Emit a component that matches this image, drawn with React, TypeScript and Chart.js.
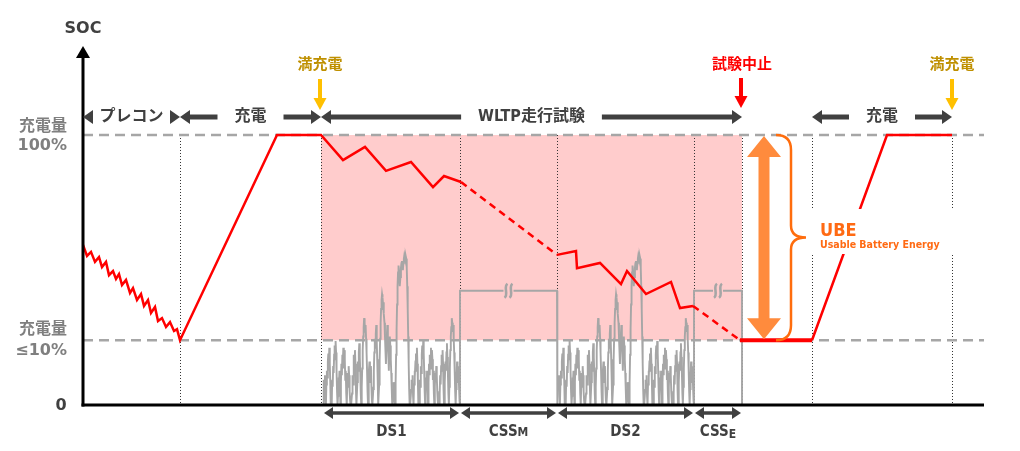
import React, { useEffect, useRef } from 'react';
import { Chart, registerables } from 'chart.js';

Chart.register(...registerables);

const FONT = "'DejaVu Sans Condensed', 'DejaVu Sans', 'Noto Sans CJK JP', sans-serif";
const FONT_WIDE = "'DejaVu Sans', 'Noto Sans CJK JP', sans-serif";
const DARK = '#404040';
const GRAY_TXT = '#7F7F7F';
const GRAY_LINE = '#A6A6A6';
const PINK = '#FFCCCC';
const RED = '#FF0000';

// ---- time axis (arbitrary units) and SOC levels (%) ----
const T_MAX = 917;
const AXIS_END_T = 901;
const SOC_FULL = 100;
const SOC_LOW = 24;
const SOC_AXIS_MAX = 133.33;
const SPEED_AXIS_MAX = 315;
const CSS_SPEED = 100;

// phase boundaries (time units)
const PRECON_END = 97;
const TEST_START = 238;
const DS1_START = 240;
const DS1_END = 377;
const CSSM_END = 474;
const DS2_END = 611;
const TEST_END = 659;
const CHG2_START = 729;
const CHG2_END = 869;

// SOC trace
const SOC_T = [0, 4, 8, 12, 16, 19, 23, 26, 30, 33, 36, 39, 43, 47, 50, 54, 58, 61, 65, 68, 72, 75, 79, 83, 87, 91, 94, 97,
  194, 238, 260, 282, 303, 328, 350, 361, 378,
  474, 493, 494, 517, 538, 544, 563, 588, 597, 610,
  657, 729, 804, 869];
const SOC_V = [59.3, 55.2, 56.7, 53.0, 54.8, 51.1, 53.0, 48.1, 49.6, 46.7, 48.5, 44.4, 46.3, 41.5, 43.3, 38.9, 41.1, 36.7, 38.9, 34.1, 36.3, 31.1, 32.2, 28.9, 30.7, 27.4, 28.1, 24,
  100, 100, 90.7, 95.6, 86.7, 90.0, 80.7, 84.8, 82.6,
  55.6, 57.0, 50.7, 52.6, 44.8, 49.6, 41.1, 45.6, 35.9, 36.7,
  24, 24, 100, 100];
const SOC_DASHED_FROM = [378, 610];
const SOC_THICK_FROM = [657];

// WLTC-like speed phases (km/h, one sample per 10 s)
const PHASE_LOW = [0, 12, 22, 14, 26, 8, 0, 18, 30, 24, 38, 45, 30, 50, 36, 20, 0, 5, 0, 22, 16, 34, 28, 44, 52, 40, 56, 46, 30, 12,
  0, 8, 24, 14, 30, 18, 0, 20, 36, 26, 44, 38, 50, 32, 48, 40, 22, 30, 10, 0, 16, 28, 20, 34, 26, 12, 4, 0, 0];
const PHASE_MEDIUM = [0, 10, 26, 18, 34, 44, 30, 48, 36, 14, 0, 0, 20, 38, 30, 46, 54, 42, 28, 10, 0, 16, 32, 48, 60, 68, 76, 72,
  64, 70, 58, 46, 30, 12, 0, 14, 28, 38, 30, 20, 34, 16, 4, 0];
const PHASE_HIGH = [0, 14, 30, 46, 58, 50, 62, 70, 56, 40, 22, 0, 0, 18, 40, 58, 72, 84, 92, 97, 94, 88, 90, 80, 72, 60, 48, 36,
  50, 62, 70, 58, 44, 30, 46, 60, 52, 40, 28, 14, 0, 0, 10, 20, 8, 0];
const PHASE_EXHIGH = [0, 20, 44, 66, 88, 104, 116, 122, 118, 110, 104, 112, 120, 124, 126, 122, 118, 124, 128, 131, 129, 126, 130,
  128, 120, 104, 84, 60, 36, 14, 0, 0];
const DS_PROFILE = [...PHASE_LOW, ...PHASE_MEDIUM, ...PHASE_HIGH, ...PHASE_EXHIGH, ...PHASE_LOW, ...PHASE_MEDIUM];

function dsPoints(start: number, end: number) {
  const n = DS_PROFILE.length;
  return DS_PROFILE.map((v, i) => ({ x: start + (i * (end - start)) / (n - 1), y: v }));
}

const socData = SOC_T.map((t, i) => ({ x: t, y: SOC_V[i] }));
const speedData = [
  ...dsPoints(DS1_START, DS1_END),
  { x: DS1_END, y: CSS_SPEED }, { x: CSSM_END, y: CSS_SPEED }, { x: CSSM_END, y: 0 },
  ...dsPoints(CSSM_END, DS2_END),
  { x: DS2_END, y: CSS_SPEED }, { x: TEST_END, y: CSS_SPEED }, { x: TEST_END, y: 0 },
];

// ---- drawing helpers ----
function poly(ctx: CanvasRenderingContext2D, pts: number[][], color: string) {
  ctx.beginPath();
  ctx.moveTo(pts[0][0], pts[0][1]);
  for (let i = 1; i < pts.length; i++) ctx.lineTo(pts[i][0], pts[i][1]);
  ctx.closePath();
  ctx.fillStyle = color;
  ctx.fill();
}
function hHead(ctx: CanvasRenderingContext2D, tip: number, y: number, dir: number, len: number, half: number, color: string) {
  poly(ctx, [[tip, y], [tip - dir * len, y - half], [tip - dir * len, y + half]], color);
}
function hLine(ctx: CanvasRenderingContext2D, x1: number, x2: number, y: number, w: number, color: string) {
  if (x2 - x1 < 2) return;
  ctx.beginPath();
  ctx.moveTo(x1, y);
  ctx.lineTo(x2, y);
  ctx.lineWidth = w;
  ctx.strokeStyle = color;
  ctx.setLineDash([]);
  ctx.stroke();
}
function text(ctx: CanvasRenderingContext2D, s: string, x: number, y: number, size: number, color: string, align: CanvasTextAlign = 'center', family: string = FONT) {
  ctx.font = `bold ${size}px ${family}`;
  ctx.fillStyle = color;
  ctx.textAlign = align;
  ctx.textBaseline = 'middle';
  ctx.fillText(s, x, y);
}
function downArrow(ctx: CanvasRenderingContext2D, x: number, y1: number, y2: number, color: string) {
  ctx.beginPath();
  ctx.moveTo(x, y1);
  ctx.lineTo(x, y2 - 10);
  ctx.lineWidth = 4;
  ctx.strokeStyle = color;
  ctx.setLineDash([]);
  ctx.stroke();
  poly(ctx, [[x, y2], [x - 6.5, y2 - 12], [x + 6.5, y2 - 12]], color);
}

const annotations = {
  id: 'annotations',
  beforeDraw(chart: any) {
    const ctx = chart.ctx;
    ctx.save();
    ctx.fillStyle = '#FFFFFF';
    ctx.fillRect(0, 0, chart.width, chart.height);
    ctx.restore();
  },
  beforeDatasetsDraw(chart: any) {
    const ctx: CanvasRenderingContext2D = chart.ctx;
    const X = (v: number) => chart.scales.x.getPixelForValue(v);
    const S = (v: number) => chart.scales.soc.getPixelForValue(v);
    const area = chart.chartArea;
    ctx.save();
    ctx.fillStyle = PINK;
    ctx.fillRect(X(TEST_START), S(SOC_FULL), X(TEST_END) - X(TEST_START), S(SOC_LOW) - S(SOC_FULL));
    ctx.strokeStyle = '#333333';
    ctx.lineWidth = 1;
    ctx.setLineDash([1, 2]);
    for (const t of [PRECON_END, TEST_START, DS1_END, CSSM_END, DS2_END, TEST_END, CHG2_START, CHG2_END]) {
      const px = Math.round(X(t)) + 0.5;
      ctx.beginPath();
      ctx.moveTo(px, S(SOC_FULL));
      ctx.lineTo(px, area.bottom);
      ctx.stroke();
    }
    ctx.strokeStyle = GRAY_LINE;
    ctx.lineWidth = 2.5;
    ctx.setLineDash([10, 6]);
    for (const lvl of [SOC_FULL, SOC_LOW]) {
      ctx.beginPath();
      ctx.moveTo(area.left, S(lvl));
      ctx.lineTo(X(AXIS_END_T), S(lvl));
      ctx.stroke();
    }
    ctx.restore();
  },
  afterDraw(chart: any) {
    const ctx: CanvasRenderingContext2D = chart.ctx;
    const X = (v: number) => chart.scales.x.getPixelForValue(v);
    const S = (v: number) => chart.scales.soc.getPixelForValue(v);
    const V = (v: number) => chart.scales.spd.getPixelForValue(v);
    const area = chart.chartArea;
    ctx.save();

    // break symbols on constant-speed lines
    for (const t of [(DS1_END + CSSM_END) / 2, (DS2_END + TEST_END) / 2]) {
      const cx = X(t);
      const cy = V(CSS_SPEED);
      ctx.fillStyle = PINK;
      ctx.fillRect(cx - 5, cy - 3, 10, 6);
      ctx.strokeStyle = GRAY_LINE;
      ctx.lineWidth = 2.6;
      ctx.setLineDash([]);
      for (const dx of [-2.5, 2.5]) {
        const x0 = cx + dx;
        ctx.beginPath();
        ctx.moveTo(x0 + 1.5, cy - 7);
        ctx.bezierCurveTo(x0 - 3, cy - 4, x0 + 3, cy + 4, x0 - 1.5, cy + 7);
        ctx.stroke();
      }
    }

    // axes
    ctx.setLineDash([]);
    ctx.strokeStyle = '#000';
    ctx.lineWidth = 3;
    ctx.beginPath();
    ctx.moveTo(area.left, area.bottom + 1.5);
    ctx.lineTo(area.left, area.top + 12);
    ctx.stroke();
    poly(ctx, [[area.left, area.top + 1], [area.left - 7, area.top + 13], [area.left + 7, area.top + 13]], '#000');
    ctx.beginPath();
    ctx.moveTo(area.left - 1.5, area.bottom);
    ctx.lineTo(X(AXIS_END_T), area.bottom);
    ctx.stroke();

    // axis labels
    text(ctx, 'SOC', area.left, 29, 16, DARK, 'center', FONT_WIDE);
    text(ctx, '充電量', 67, S(SOC_FULL) - 8, 16, GRAY_TXT, 'right', FONT_WIDE);
    text(ctx, '100%', 67, S(SOC_FULL) + 11, 16, GRAY_TXT, 'right', FONT_WIDE);
    text(ctx, '充電量', 67, S(SOC_LOW) - 10, 16, GRAY_TXT, 'right', FONT_WIDE);
    text(ctx, '≤10%', 67, S(SOC_LOW) + 11, 16, GRAY_TXT, 'right', FONT_WIDE);
    text(ctx, '0', 61, area.bottom + 1, 16, DARK, 'center', FONT_WIDE);

    // top phase spans
    const yTop = 117;
    const spans: [number, number, string][] = [
      [0, PRECON_END, 'プレコン'],
      [PRECON_END, TEST_START, '充電'],
      [TEST_START, TEST_END, 'WLTP走行試験'],
      [CHG2_START, CHG2_END, '充電'],
    ];
    for (const [a, b, label] of spans) {
      const x1 = X(a);
      const x2 = X(b);
      const cx = (x1 + x2) / 2;
      ctx.font = `bold 16px ${FONT}`;
      const w = ctx.measureText(label).width;
      hHead(ctx, x1, yTop, -1, 10, 7, DARK);
      hHead(ctx, x2, yTop, 1, 10, 7, DARK);
      hLine(ctx, x1 + 9, cx - w / 2 - 17, yTop, 5, DARK);
      hLine(ctx, cx + w / 2 + 17, x2 - 9, yTop, 5, DARK);
      text(ctx, label, cx, yTop, 16, DARK);
    }

    // full-charge / stop markers
    text(ctx, '満充電', X(TEST_START) - 1, 65, 15, '#BF9000');
    downArrow(ctx, X(TEST_START) - 1, 79, 110, '#FFC000');
    text(ctx, '満充電', X(CHG2_END), 65, 15, '#BF9000');
    downArrow(ctx, X(CHG2_END), 79, 110, '#FFC000');
    text(ctx, '試験中止', X(TEST_END), 65, 15, RED);
    downArrow(ctx, X(TEST_END) - 1, 78, 108, RED);

    // bottom segment spans
    const yB = 413;
    const segs: [number, number, string, string][] = [
      [DS1_START, DS1_END, 'DS1', ''],
      [DS1_END, CSSM_END, 'CSS', 'M'],
      [CSSM_END, DS2_END, 'DS2', ''],
      [DS2_END, TEST_END, 'CSS', 'E'],
    ];
    for (const [a, b, main, sub] of segs) {
      const x1 = X(a) + 1;
      const x2 = X(b) - 1;
      hLine(ctx, x1 + 6, x2 - 6, yB, 3.5, DARK);
      hHead(ctx, x1, yB, -1, 9, 6, DARK);
      hHead(ctx, x2, yB, 1, 9, 6, DARK);
      const cx = (X(a) + X(b)) / 2;
      ctx.font = `bold 15px ${FONT}`;
      const w1 = ctx.measureText(main).width;
      ctx.font = `bold 12px ${FONT}`;
      const w2 = sub ? ctx.measureText(sub).width : 0;
      const left = cx - (w1 + w2) / 2;
      ctx.textBaseline = 'alphabetic';
      ctx.textAlign = 'left';
      ctx.fillStyle = DARK;
      ctx.font = `bold 15px ${FONT}`;
      ctx.fillText(main, left, 436);
      if (sub) {
        ctx.font = `bold 12px ${FONT}`;
        ctx.fillText(sub, left + w1, sub === 'E' ? 438 : 436);
      }
    }

    // UBE double arrow
    const ax = 764;
    const yT = S(SOC_FULL) + 1;
    const yL = S(SOC_LOW) - 1;
    const orange = '#FF8B3D';
    poly(ctx, [
      [ax, yT], [ax + 17, yT + 21], [ax + 5.5, yT + 21], [ax + 5.5, yL - 21], [ax + 17, yL - 21],
      [ax, yL], [ax - 17, yL - 21], [ax - 5.5, yL - 21], [ax - 5.5, yT + 21], [ax - 17, yT + 21],
    ], orange);

    // brace
    const bx0 = 776;
    const bxv = 791;
    const btip = 806;
    const yMid = (yT + yL) / 2;
    ctx.beginPath();
    ctx.moveTo(bx0, S(SOC_FULL));
    ctx.quadraticCurveTo(bxv, S(SOC_FULL), bxv, S(SOC_FULL) + 15);
    ctx.lineTo(bxv, yMid - 12);
    ctx.quadraticCurveTo(bxv, yMid, btip, yMid);
    ctx.quadraticCurveTo(bxv, yMid, bxv, yMid + 12);
    ctx.lineTo(bxv, S(SOC_LOW) - 15);
    ctx.quadraticCurveTo(bxv, S(SOC_LOW), bx0, S(SOC_LOW));
    ctx.lineWidth = 2.5;
    ctx.strokeStyle = '#FF6D0D';
    ctx.stroke();

    // UBE label box
    ctx.fillStyle = '#FFFFFF';
    ctx.fillRect(810, 209, 148, 45);
    ctx.textAlign = 'left';
    ctx.textBaseline = 'alphabetic';
    ctx.fillStyle = '#FF6A13';
    ctx.font = `bold 18px ${FONT}`;
    ctx.fillText('UBE', 820, 236);
    ctx.font = `bold 10.5px ${FONT}`;
    ctx.fillText('Usable Battery Energy', 820, 248);

    ctx.restore();
  },
};

export default function App() {
  const ref = useRef<HTMLCanvasElement>(null);
  useEffect(() => {
    if (!ref.current) return;
    const chart = new Chart(ref.current, {
      type: 'line',
      data: {
        datasets: [
          {
            label: 'SOC',
            data: socData,
            yAxisID: 'soc',
            borderColor: RED,
            borderWidth: 2.5,
            pointRadius: 0,
            tension: 0,
            order: 0,
            segment: {
              borderDash: (c: any) => (SOC_DASHED_FROM.includes(c.p0.parsed.x) ? [7, 5] : undefined),
              borderWidth: (c: any) => (SOC_THICK_FROM.includes(c.p0.parsed.x) ? 4 : undefined),
            },
          } as any,
          {
            label: 'Speed',
            data: speedData,
            yAxisID: 'spd',
            borderColor: GRAY_LINE,
            borderWidth: 1.9,
            pointRadius: 0,
            tension: 0,
            order: 1,
          },
        ],
      },
      options: {
        animation: false,
        responsive: false,
        devicePixelRatio: 1,
        layout: { padding: { left: 83, right: 20, top: 45, bottom: 46 } },
        plugins: { legend: { display: false }, tooltip: { enabled: false } },
        scales: {
          x: { type: 'linear', min: 0, max: T_MAX, display: false },
          soc: { type: 'linear', min: 0, max: SOC_AXIS_MAX, display: false },
          spd: { type: 'linear', min: 0, max: SPEED_AXIS_MAX, display: false },
        },
      },
      plugins: [annotations],
    } as any);
    return () => chart.destroy();
  }, []);
  return (
    <div style={{ position: 'fixed', left: 0, top: 0, width: 1020, height: 451, background: '#fff' }}>
      <canvas ref={ref} width={1020} height={451} style={{ display: 'block' }} />
    </div>
  );
}
